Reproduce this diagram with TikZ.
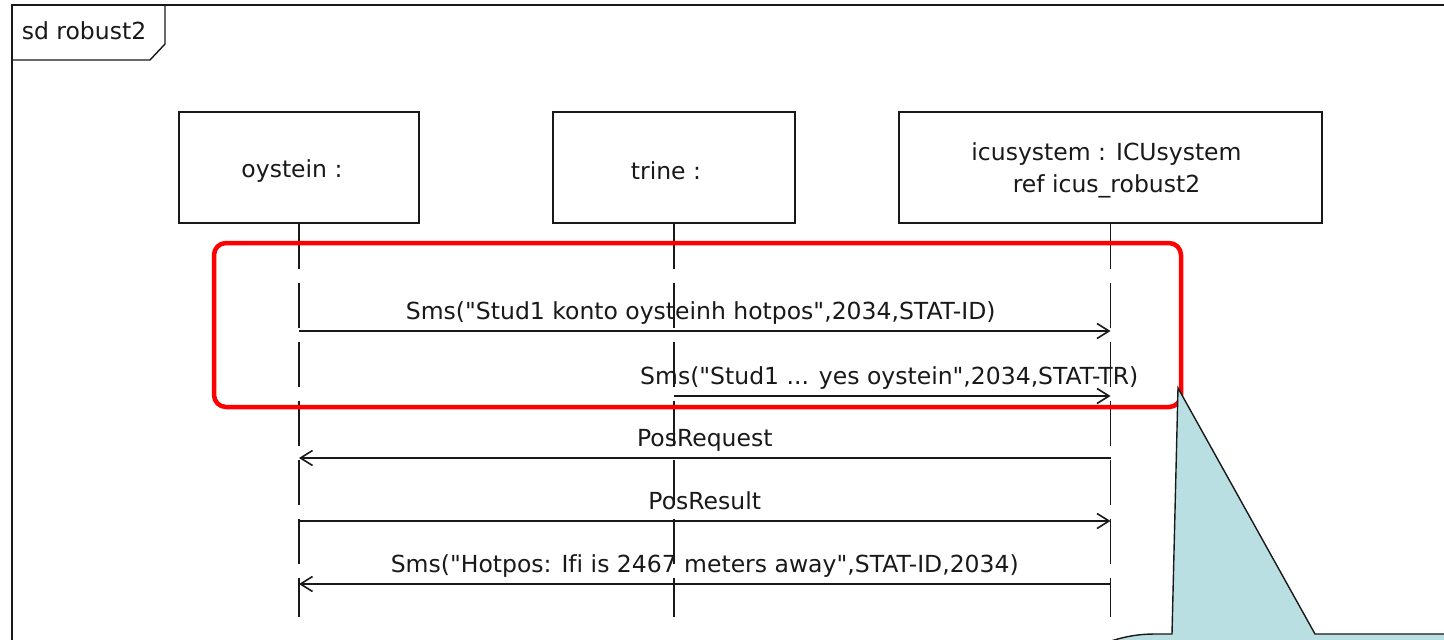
\documentclass[tikz,border=0pt]{standalone}
\usepackage{fontspec}
\setmainfont{DejaVu Sans}[Ligatures={TeXOff,CommonOff}]
\usetikzlibrary{arrows.meta}
\definecolor{ink}{RGB}{25,25,25}
\definecolor{notefill}{RGB}{186,223,226}
\definecolor{markred}{RGB}{255,0,0}

\begin{document}
\begin{tikzpicture}[x=1pt, y=-1pt,
  txt/.style={font=\fontsize{23.5}{32}\selectfont, text=ink, inner sep=0pt, align=center},
  lifebox/.style={draw=ink, line width=1.7pt, minimum height=111pt, inner sep=0pt},
  lifeline/.style={draw=ink, line width=1.8pt, dash pattern=on 45pt off 14pt},
  msg/.style={draw=ink, line width=1.7pt,
    -{Straight Barb[length=12pt, width=15pt, line width=1.6pt]}},
  lbl/.style={txt, midway, anchor=base, yshift=11.5pt},
  highlight/.style={draw=markred, line width=4.5pt, rounded corners=12pt},
  notebody/.style={fill=notefill},
  noteline/.style={draw=ink, line width=1.4pt, line join=miter}
]
\useasboundingbox (0,0) rectangle (1444,640);
\clip (0,0) rectangle (1444,640);
\fill[white] (0,0) rectangle (1444,640);

% interaction frame with its name tab
\draw[ink, line width=2.6pt] (12,645) -- (12,5) -- (1450,5);
\draw[ink, line width=1.4pt] (12,60) -- (150,60) -- (165,44) -- (165,5);
\node[txt] (sdname) at (84,31) {sd robust2};

% participants
\node[lifebox, minimum width=240pt] (o) at (299,167.5) {};
\node[lifebox, minimum width=242pt] (t) at (674,167.5) {};
\node[lifebox, minimum width=423pt] (i) at (1110.5,167.5) {};
\node[txt] (oname) at ([xshift=-7pt, yshift=-4pt]o.center) {oystein :};
\node[txt] (tname) at ([xshift=-8pt, yshift=-3pt]t.center) {trine :};
\node[txt] (iname) at ([xshift=-4pt, yshift=-3pt]i.center)
  {icusystem : ICUsystem\\ref icus\_robust2};

% lifeline ends
\coordinate (oend) at (o.south |- 0,617);
\coordinate (tend) at (t.south |- 0,617);
\coordinate (iend) at (i.south |- 0,617);
\draw[lifeline] (o.south) -- (oend);
\draw[lifeline] (t.south) -- (tend);
\draw[lifeline] (i.south) -- (iend);

% message anchors on the lifelines
\coordinate (o1) at (o.south |- 0,331);
\coordinate (i1) at (i.south |- 0,331);
\coordinate (t2) at (t.south |- 0,396);
\coordinate (i2) at (i.south |- 0,396);
\coordinate (i3) at (i.south |- 0,458);
\coordinate (o3) at (o.south |- 0,458);
\coordinate (o4) at (o.south |- 0,521);
\coordinate (i4) at (i.south |- 0,521);
\coordinate (i5) at (i.south |- 0,584);
\coordinate (o5) at (o.south |- 0,584);

% messages
\draw[msg] (o1) -- (i1) node[lbl, xshift=-4pt] (m1) {Sms("Stud1 konto oysteinh hotpos",2034,STAT-ID)};
\draw[msg] (t2) -- (i2) node[lbl, xshift=-3pt] (m2) {Sms("Stud1 ... yes oystein",2034,STAT-TR)};
\draw[msg] (i3) -- (o3) node[lbl] (m3) {PosRequest};
\draw[msg] (o4) -- (i4) node[lbl] (m4) {PosResult};
\draw[msg] (i5) -- (o5) node[lbl] (m5) {Sms("Hotpos: Ifi is 2467 meters away",STAT-ID,2034)};

% highlighted pair of messages
\draw[highlight] (214,243) rectangle (1181,407);

% callout pointing at the highlight
\fill[notebody] (1105,643) .. controls (1125,636) and (1140,634) .. (1155,634)
  -- (1172,634) -- (1178,388) -- (1315,634) -- (1450,634) -- (1450,650) -- (1105,650) -- cycle;
\draw[noteline] (1105,643) .. controls (1125,636) and (1140,634) .. (1155,634)
  -- (1172,634) -- (1178,388) -- (1315,634) -- (1450,634);
\end{tikzpicture}
\end{document}
